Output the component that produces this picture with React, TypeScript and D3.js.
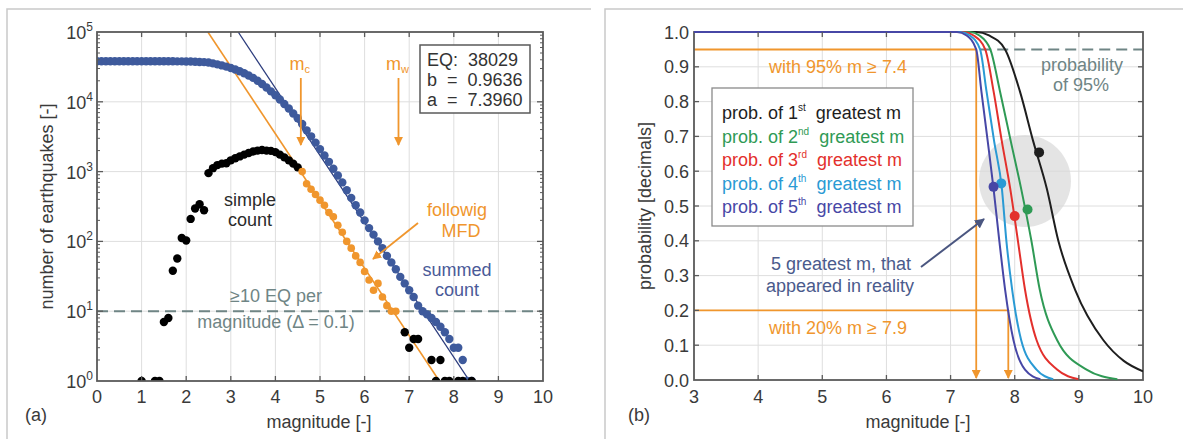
import React from 'react';
import * as d3 from 'd3';

// ---------- Panel (a) data ----------
const eqTotal = 38029;
const bValue = 0.9636;
const aValue = 7.396;
const aSummedFit = 8.05;
const mcMag = 4.57;
const mwMag = 6.76;

const summedCount: [number, number][] = [
  [0.0, 38029], [0.1, 38029], [0.2, 38029], [0.3, 38029], [0.4, 38029], [0.5, 38029],
  [0.6, 38029], [0.7, 38029], [0.8, 38029], [0.9, 38029], [1.0, 38029], [1.1, 38028],
  [1.2, 38028], [1.3, 38028], [1.4, 38027], [1.5, 38026], [1.6, 38019], [1.7, 38011],
  [1.8, 37973], [1.9, 37916], [2.0, 37804], [2.1, 37701], [2.2, 37491], [2.3, 37195],
  [2.4, 37000], [2.5, 36500], [2.6, 35500], [2.7, 34400], [2.8, 33200], [2.9, 31900],
  [3.0, 30500], [3.1, 29000], [3.2, 27400], [3.3, 25600], [3.4, 23800], [3.5, 22000],
  [3.6, 20000], [3.7, 18000], [3.8, 16000], [3.9, 14100], [4.0, 12400], [4.1, 10800],
  [4.2, 9300], [4.3, 8000], [4.4, 6800], [4.5, 5800], [4.6, 4800], [4.7, 3900],
  [4.8, 3200], [4.9, 2600], [5.0, 2100], [5.1, 1700], [5.2, 1380], [5.3, 1100],
  [5.4, 880], [5.5, 700], [5.6, 540], [5.7, 420], [5.8, 330], [5.9, 260],
  [6.0, 200], [6.1, 155], [6.2, 125], [6.3, 100], [6.4, 80], [6.5, 62],
  [6.6, 50], [6.7, 40], [6.8, 31], [6.9, 25], [7.0, 20], [7.1, 16],
  [7.2, 12], [7.3, 10], [7.4, 9], [7.5, 8], [7.6, 7], [7.7, 6],
  [7.8, 5], [7.9, 4], [8.0, 3], [8.1, 3], [8.2, 2], [8.3, 1], [8.4, 1],
];

const simpleCount: [number, number][] = [
  [1.0, 1], [1.3, 1], [1.4, 1], [1.5, 7], [1.6, 8], [1.7, 38], [1.8, 57], [1.9, 112],
  [2.0, 103], [2.1, 210], [2.2, 296], [2.3, 340], [2.4, 280], [2.5, 950], [2.6, 1120],
  [2.7, 1240], [2.8, 1300], [2.9, 1320], [3.0, 1450], [3.1, 1550], [3.2, 1650],
  [3.3, 1750], [3.4, 1850], [3.5, 1940], [3.6, 2000], [3.7, 2040], [3.8, 2000],
  [3.9, 1980], [4.0, 1900], [4.1, 1750], [4.2, 1600], [4.3, 1450], [4.4, 1300],
  [4.5, 1150], [4.6, 1000], [4.7, 670], [4.8, 560], [4.9, 470], [5.0, 390],
  [5.1, 330], [5.2, 260], [5.3, 225], [5.4, 170], [5.5, 135], [5.6, 100],
  [5.7, 80], [5.8, 62], [5.9, 50], [6.0, 37], [6.1, 28], [6.2, 20], [6.3, 25],
  [6.4, 16], [6.5, 12], [6.6, 10], [6.7, 10], [6.9, 5], [7.0, 3], [7.1, 4],
  [7.2, 4], [7.5, 2], [7.6, 1], [7.7, 2], [7.8, 1], [7.9, 1], [8.1, 1], [8.2, 1], [8.4, 1],
];

const xTicksA = [0, 1, 2, 3, 4, 5, 6, 7, 8, 9, 10];
const yExpA = [0, 1, 2, 3, 4, 5];

// ---------- Panel (b) data ----------
const curve1st: [number, number][] = [
  [3, 1], [7.4, 1], [7.6, 0.99], [7.85, 0.95], [8.08, 0.83], [8.29, 0.685], [8.5, 0.55],
  [8.68, 0.4], [8.94, 0.26], [9.38, 0.115], [9.7, 0.055], [10, 0.025],
];
const curve2nd: [number, number][] = [
  [3, 1], [7.3, 1], [7.45, 0.99], [7.62, 0.95], [7.77, 0.83], [7.94, 0.685], [8.1, 0.55],
  [8.26, 0.4], [8.39, 0.26], [8.66, 0.115], [9.12, 0.03], [9.6, 0.002],
];
const curve3rd: [number, number][] = [
  [3, 1], [7.2, 1], [7.36, 0.99], [7.54, 0.95], [7.67, 0.83], [7.8, 0.685], [7.93, 0.55],
  [8.05, 0.4], [8.16, 0.26], [8.34, 0.115], [8.66, 0.03], [9.0, 0.002],
];
const curve4th: [number, number][] = [
  [3, 1], [7.15, 1], [7.3, 0.99], [7.46, 0.95], [7.56, 0.83], [7.68, 0.685], [7.8, 0.55],
  [7.87, 0.4], [7.96, 0.26], [8.1, 0.115], [8.34, 0.03], [8.6, 0.002],
];
const curve5th: [number, number][] = [
  [3, 1], [7.1, 1], [7.25, 0.99], [7.4, 0.95], [7.48, 0.83], [7.58, 0.685], [7.67, 0.55],
  [7.76, 0.4], [7.85, 0.26], [7.98, 0.115], [8.16, 0.03], [8.4, 0.002],
];
const realPoints: [number, number][] = [
  [8.38, 0.654], [8.2, 0.49], [8.0, 0.471], [7.79, 0.565], [7.67, 0.555],
];
const curveLabels = ['1', '2', '3', '4', '5'];
const curveSup = ['st', 'nd', 'rd', 'th', 'th'];
const curveColors = ['#1e1e1e', '#2f9a55', '#e3302c', '#2a9ad4', '#4747a6'];
const xTicksB = [3, 4, 5, 6, 7, 8, 9, 10];
const yTicksB = [0, 0.1, 0.2, 0.3, 0.4, 0.5, 0.6, 0.7, 0.8, 0.9, 1.0];
const prob95 = 0.95;
const mag95 = 7.4;
const prob20 = 0.2;
const mag20 = 7.9;
const highlightCenter: [number, number] = [8.16, 0.572];

const ORANGE = '#f0962d';
const BLUE = '#3e5a9c';
const NAVY = '#2b3b7c';
const AXIS = '#5a5a5a';
const GRID = '#dedede';
const TEAL = '#6f8585';
const FONT = 'Liberation Sans, Arial, Helvetica, sans-serif';

export default function App() {
  // Panel (a) scales
  const xA = d3.scaleLinear().domain([0, 10]).range([97, 543]);
  const yA = d3.scaleLog().domain([1, 1e5]).range([381, 32]);
  // Panel (b) scales
  const xB = d3.scaleLinear().domain([3, 10]).range([694, 1143]);
  const yB = d3.scaleLinear().domain([0, 1]).range([380, 32]);

  const [ax0, ax1] = xA.range();
  const [ay0, ay1] = yA.range();
  const [bx0, bx1] = xB.range();
  const [by0, by1] = yB.range();

  const minorA: number[] = [];
  for (let e = 0; e < 5; e++) for (let k = 2; k <= 9; k++) minorA.push(k * Math.pow(10, e));

  const fitLine = (a: number) => {
    const mTop = (a - 5) / bValue;
    const mBot = a / bValue;
    return { x1: xA(mTop), y1: yA(1e5), x2: xA(mBot), y2: yA(1) };
  };
  const fitO = fitLine(aValue);
  const fitB = fitLine(aSummedFit);

  const lineB = d3
    .line<[number, number]>()
    .x((d) => xB(d[0]))
    .y((d) => yB(d[1]))
    .curve(d3.curveMonotoneX);
  const curves = [curve1st, curve2nd, curve3rd, curve4th, curve5th];

  const isMFD = (d: [number, number]) => d[0] >= 4.6 && d[1] >= 10;

  const tickFont = { fontFamily: FONT, fontSize: 18, fill: '#3a3a3a' };

  return (
    <svg width={1183} height={439} style={{ position: 'absolute', left: 0, top: 0, background: '#fff' }}>
      <defs>
        <marker id="arrO" viewBox="0 0 10 10" refX="9" refY="5" markerWidth="5" markerHeight="5" orient="auto" markerUnits="strokeWidth">
          <path d="M0,0 L10,5 L0,10 z" fill={ORANGE} />
        </marker>
        <marker id="arrN" viewBox="0 0 10 10" refX="9" refY="5" markerWidth="5" markerHeight="5" orient="auto" markerUnits="strokeWidth">
          <path d="M0,0 L10,5 L0,10 z" fill="#4a5680" />
        </marker>
        <clipPath id="clipA">
          <rect x={ax0} y={ay1} width={ax1 - ax0} height={ay0 - ay1} />
        </clipPath>
        <clipPath id="clipB">
          <rect x={bx0} y={by1 - 2} width={bx1 - bx0} height={by0 - by1 + 4} />
        </clipPath>
      </defs>

      {/* panel frames */}
      <g stroke="#c9c9c9" strokeWidth={1.5} fill="none">
        <path d="M7,439 L7,9 L591,9" />
        <path d="M605,439 L605,9 L1183,9" />
      </g>

      {/* ================= Panel (a) ================= */}
      <g>
        {xTicksA.slice(1, -1).map((t) => (
          <line key={'gxa' + t} x1={xA(t)} x2={xA(t)} y1={ay1} y2={ay0} stroke={GRID} strokeWidth={1} />
        ))}
        {yExpA.slice(1, -1).map((e) => (
          <line key={'gya' + e} x1={ax0} x2={ax1} y1={yA(Math.pow(10, e))} y2={yA(Math.pow(10, e))} stroke={GRID} strokeWidth={1} />
        ))}

        <line x1={ax0} x2={ax1} y1={yA(10)} y2={yA(10)} stroke={TEAL} strokeWidth={2} strokeDasharray="11,6" />

        <g clipPath="url(#clipA)">
          <line {...fitB} stroke={NAVY} strokeWidth={1.3} />
          <line {...fitO} stroke={ORANGE} strokeWidth={1.6} />
          {summedCount.map((d, i) => (
            <circle key={'s' + i} cx={xA(d[0])} cy={yA(d[1])} r={4.2} fill={BLUE} />
          ))}
          {simpleCount.map((d, i) => (
            <circle key={'c' + i} cx={xA(d[0])} cy={yA(d[1])} r={isMFD(d) ? 3.8 : 4.2} fill={isMFD(d) ? ORANGE : '#000'} />
          ))}
        </g>

        <rect x={ax0} y={ay1} width={ax1 - ax0} height={ay0 - ay1} fill="none" stroke={AXIS} strokeWidth={1.8} />
        {xTicksA.slice(1, -1).map((t) => (
          <g key={'txa' + t} stroke={AXIS} strokeWidth={1.3}>
            <line x1={xA(t)} x2={xA(t)} y1={ay0} y2={ay0 - 5} />
            <line x1={xA(t)} x2={xA(t)} y1={ay1} y2={ay1 + 5} />
          </g>
        ))}
        {yExpA.slice(1, -1).map((e) => (
          <g key={'tya' + e} stroke={AXIS} strokeWidth={1.3}>
            <line x1={ax0} x2={ax0 + 6} y1={yA(Math.pow(10, e))} y2={yA(Math.pow(10, e))} />
            <line x1={ax1} x2={ax1 - 6} y1={yA(Math.pow(10, e))} y2={yA(Math.pow(10, e))} />
          </g>
        ))}
        {minorA.map((v) => (
          <g key={'mya' + v} stroke={AXIS} strokeWidth={1}>
            <line x1={ax0} x2={ax0 + 3} y1={yA(v)} y2={yA(v)} />
            <line x1={ax1} x2={ax1 - 3} y1={yA(v)} y2={yA(v)} />
          </g>
        ))}
        {xTicksA.map((t) => (
          <text key={'lxa' + t} x={xA(t)} y={403} textAnchor="middle" {...tickFont}>{t}</text>
        ))}
        {yExpA.map((e) => (
          <text key={'lya' + e} x={93} y={yA(Math.pow(10, e)) + 7} textAnchor="end" {...tickFont}>
            10<tspan fontSize={12} dy={-8}>{e}</tspan>
          </text>
        ))}
        <text x={319} y={428} textAnchor="middle" {...tickFont}>magnitude [-]</text>
        <text transform={`translate(53,${(ay0 + ay1) / 2}) rotate(-90)`} textAnchor="middle" {...tickFont}>number of earthquakes [-]</text>
        <text x={25} y={421} {...tickFont}>(a)</text>

        <line x1={xA(mcMag)} x2={xA(mcMag)} y1={78} y2={145} stroke={ORANGE} strokeWidth={1.8} markerEnd="url(#arrO)" />
        <text x={xA(mcMag) - 1} y={70} textAnchor="middle" fontFamily={FONT} fontSize={18} fill={ORANGE}>
          m<tspan fontSize={11} dy={3}>c</tspan>
        </text>
        <line x1={xA(mwMag)} x2={xA(mwMag)} y1={78} y2={145} stroke={ORANGE} strokeWidth={1.8} markerEnd="url(#arrO)" />
        <text x={xA(mwMag) - 1} y={70} textAnchor="middle" fontFamily={FONT} fontSize={18} fill={ORANGE}>
          m<tspan fontSize={11} dy={3}>w</tspan>
        </text>

        <rect x={420} y={45} width={110} height={68} fill="#fff" stroke={AXIS} strokeWidth={1.5} />
        <text x={427} y={66} fontFamily={FONT} fontSize={18} fill="#333" xmlSpace="preserve">{`EQ:  ${eqTotal}`}</text>
        <text x={427} y={86} fontFamily={FONT} fontSize={18} fill="#333" xmlSpace="preserve">{`b  =  ${bValue.toFixed(4)}`}</text>
        <text x={427} y={106} fontFamily={FONT} fontSize={18} fill="#333" xmlSpace="preserve">{`a  =  ${aValue.toFixed(4)}`}</text>

        <text x={250} y={206} textAnchor="middle" fontFamily={FONT} fontSize={18} fill="#2a2a2a">simple</text>
        <text x={250} y={226} textAnchor="middle" fontFamily={FONT} fontSize={18} fill="#2a2a2a">count</text>
        <text x={457} y={216} textAnchor="middle" fontFamily={FONT} fontSize={18} fill={ORANGE}>followig</text>
        <text x={461} y={237} textAnchor="middle" fontFamily={FONT} fontSize={18} fill={ORANGE}>MFD</text>
        <line x1={418} y1={223} x2={373} y2={259} stroke={ORANGE} strokeWidth={1.8} markerEnd="url(#arrO)" />
        <text x={457} y={276} textAnchor="middle" fontFamily={FONT} fontSize={18} fill="#4a5a98">summed</text>
        <text x={457} y={296} textAnchor="middle" fontFamily={FONT} fontSize={18} fill="#4a5a98">count</text>
        <text x={276} y={302} textAnchor="middle" fontFamily={FONT} fontSize={18} fill={TEAL}>≥10 EQ per</text>
        <text x={276} y={328} textAnchor="middle" fontFamily={FONT} fontSize={18} fill={TEAL}>magnitude (Δ = 0.1)</text>
      </g>

      {/* ================= Panel (b) ================= */}
      <g>
        {xTicksB.slice(1, -1).map((t) => (
          <line key={'gxb' + t} x1={xB(t)} x2={xB(t)} y1={by1} y2={by0} stroke={GRID} strokeWidth={1} />
        ))}
        {yTicksB.slice(1, -1).map((t) => (
          <line key={'gyb' + t} x1={bx0} x2={bx1} y1={yB(t)} y2={yB(t)} stroke={GRID} strokeWidth={1} />
        ))}

        <circle cx={xB(highlightCenter[0])} cy={yB(highlightCenter[1])} r={46} fill="#d8d8d8" opacity={0.7} />

        <line x1={bx0} x2={xB(mag95)} y1={yB(prob95)} y2={yB(prob95)} stroke={ORANGE} strokeWidth={2} />
        <line x1={xB(mag95)} x2={xB(mag95)} y1={yB(prob95)} y2={by0 - 2} stroke={ORANGE} strokeWidth={1.8} markerEnd="url(#arrO)" />
        <line x1={bx0} x2={xB(mag20)} y1={yB(prob20)} y2={yB(prob20)} stroke={ORANGE} strokeWidth={1.8} />
        <line x1={xB(mag20)} x2={xB(mag20)} y1={yB(prob20)} y2={by0 - 2} stroke={ORANGE} strokeWidth={1.8} markerEnd="url(#arrO)" />
        <line x1={xB(mag95) + 4} x2={bx1} y1={yB(prob95)} y2={yB(prob95)} stroke={TEAL} strokeWidth={2} strokeDasharray="11,6" />

        <rect x={bx0} y={by1} width={bx1 - bx0} height={by0 - by1} fill="none" stroke={AXIS} strokeWidth={1.8} />

        <g clipPath="url(#clipB)">
          {curves.map((c, i) => (
            <path key={'cv' + i} d={lineB(c) || ''} fill="none" stroke={curveColors[i]} strokeWidth={2} />
          ))}
        </g>
        {realPoints.map((p, i) => (
          <circle key={'rp' + i} cx={xB(p[0])} cy={yB(p[1])} r={5} fill={curveColors[i]} />
        ))}

        {xTicksB.slice(1, -1).map((t) => (
          <g key={'txb' + t} stroke={AXIS} strokeWidth={1.3}>
            <line x1={xB(t)} x2={xB(t)} y1={by0} y2={by0 - 5} />
            <line x1={xB(t)} x2={xB(t)} y1={by1} y2={by1 + 5} />
          </g>
        ))}
        {yTicksB.slice(1, -1).map((t) => (
          <g key={'tyb' + t} stroke={AXIS} strokeWidth={1.3}>
            <line x1={bx0} x2={bx0 + 5} y1={yB(t)} y2={yB(t)} />
            <line x1={bx1} x2={bx1 - 5} y1={yB(t)} y2={yB(t)} />
          </g>
        ))}
        {xTicksB.map((t) => (
          <text key={'lxb' + t} x={xB(t)} y={403} textAnchor="middle" {...tickFont}>{t}</text>
        ))}
        {yTicksB.map((t) => (
          <text key={'lyb' + t} x={689} y={yB(t) + 6.5} textAnchor="end" {...tickFont}>{t.toFixed(1)}</text>
        ))}
        <text x={918} y={428} textAnchor="middle" {...tickFont}>magnitude [-]</text>
        <text transform={`translate(651,${(by0 + by1) / 2}) rotate(-90)`} textAnchor="middle" {...tickFont}>probability [decimals]</text>
        <text x={628} y={421} {...tickFont}>(b)</text>

        <text x={838} y={73} textAnchor="middle" fontFamily={FONT} fontSize={18} fill={ORANGE}>with 95% m ≥ 7.4</text>
        <text x={838} y={334} textAnchor="middle" fontFamily={FONT} fontSize={18} fill={ORANGE}>with 20% m ≥ 7.9</text>
        <text x={1082} y={71} textAnchor="middle" fontFamily={FONT} fontSize={18} fill={TEAL}>probability</text>
        <text x={1081} y={91} textAnchor="middle" fontFamily={FONT} fontSize={18} fill={TEAL}>of 95%</text>
        <text x={841} y={270} textAnchor="middle" fontFamily={FONT} fontSize={18} fill="#4a5a8c">5 greatest m, that</text>
        <text x={840} y={292} textAnchor="middle" fontFamily={FONT} fontSize={18} fill="#4a5a8c">appeared in reality</text>
        <line x1={921} y1={267} x2={984} y2={219} stroke="#4a5680" strokeWidth={2} markerEnd="url(#arrN)" />

        <rect x={712} y={88} width={201} height={138} fill="#fff" stroke="#8a8a8a" strokeWidth={1.3} />
        {curveLabels.map((l, i) => (
          <text key={'lg' + i} x={722} y={119 + i * 23.5} fontFamily={FONT} fontSize={18} fill={curveColors[i]} xmlSpace="preserve">
            {`prob. of ${l}`}
            <tspan fontSize={10} dy={-8}>{curveSup[i]}</tspan>
            <tspan dy={8}>{'  greatest m'}</tspan>
          </text>
        ))}
      </g>
    </svg>
  );
}
